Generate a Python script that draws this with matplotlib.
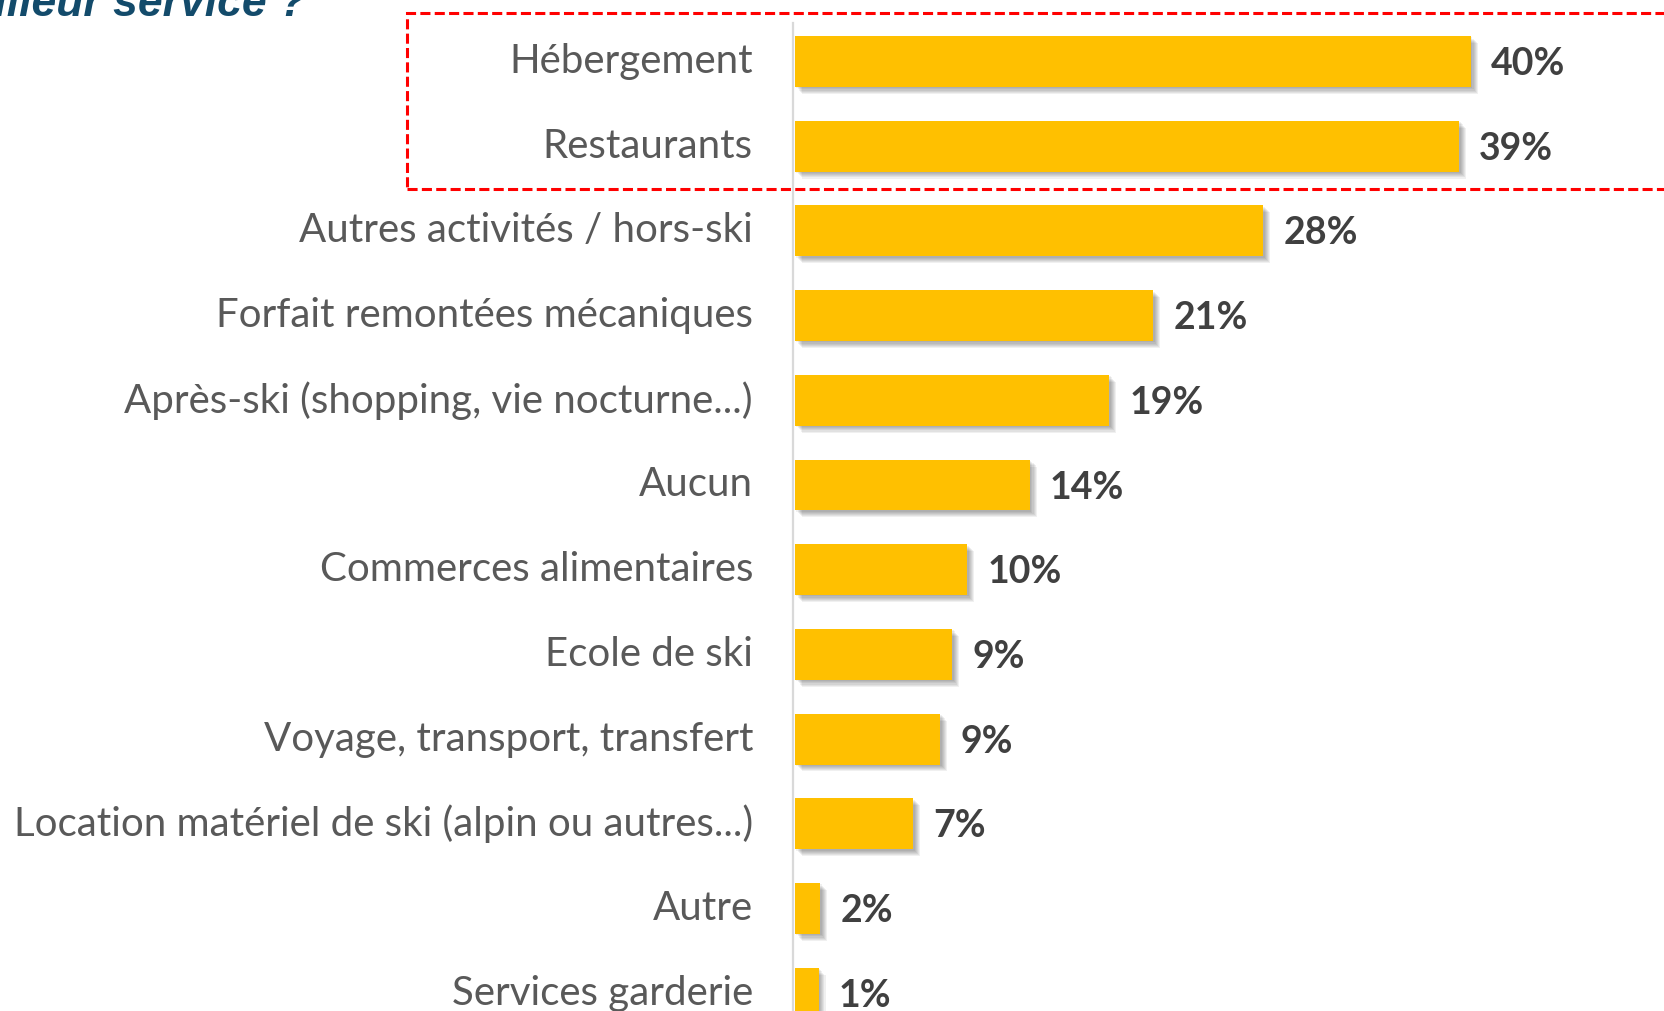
import matplotlib
matplotlib.use("Agg")
import matplotlib.pyplot as plt
import matplotlib.patheffects as pe
from matplotlib.patches import Rectangle

categories = [
    "Hébergement",
    "Restaurants",
    "Autres activités / hors-ski",
    "Forfait remontées mécaniques",
    "Après-ski (shopping, vie nocturne...)",
    "Aucun",
    "Commerces alimentaires",
    "Ecole de ski",
    "Voyage, transport, transfert",
    "Location matériel de ski (alpin ou autres...)",
    "Autre",
    "Services garderie",
]
values = [40.0, 39.3, 27.7, 21.2, 18.6, 13.9, 10.2, 9.3, 8.6, 7.0, 1.5, 1.4]
value_labels = ["40%", "39%", "28%", "21%", "19%", "14%", "10%", "9%", "9%", "7%", "2%", "1%"]
title_text = "meilleur service ?"

W, H = 1664, 1011
fig = plt.figure(figsize=(W / 100, H / 100), dpi=100)

# axes geometry in pixels
x0 = 795.0
ppu = 16.9
xmax = 52
y_center0 = 61.5
step = 84.7
top_px = y_center0 - 0.5 * step
bot_px = y_center0 + (len(categories) - 0.5) * step
ax = fig.add_axes([x0 / W, 1 - bot_px / H, xmax * ppu / W, (bot_px - top_px) / H])
ax.set_xlim(0, xmax)
ax.set_ylim(len(categories) - 0.5, -0.5)
ax.axis("off")

ypos = list(range(len(categories)))
shadows = [pe.SimplePatchShadow(offset=(o, -o), shadow_rgbFace="black", alpha=0.06)
           for o in (1.0, 1.8, 2.6, 3.4, 4.2, 5.0)]
bars = ax.barh(ypos, values, height=0.6, color="#FFC000", zorder=3)
for b in bars:
    b.set_path_effects(shadows + [pe.Normal()])

# vertical axis line
ax.plot([-0.1, -0.1], [-0.45, len(categories)], color="#D9D9D9", lw=1.6,
        clip_on=False, zorder=2)

for y, v, lab, cat in zip(ypos, values, value_labels, categories):
    ax.text(v + 20 / ppu, y + 0.03, lab, ha="left", va="center", fontsize=27,
            fontweight="bold", color="#404040", family="Lato")
    ax.text(-42 / ppu, y, cat, ha="right", va="center", fontsize=29,
            color="#595959", family="Lato", clip_on=False)

# dashed highlight box
box = Rectangle((406.5 / W, 1 - 189 / H), (1700 - 406.5) / W, (189 - 12.7) / H,
                transform=fig.transFigure, fill=False, edgecolor="#FF0000",
                lw=2.2, linestyle=(0, (3.3, 1.4)), zorder=5)
fig.patches.append(box)

fig.text(306 / W, 1 - 16 / H, title_text, ha="right", va="baseline",
         fontsize=32, fontweight="bold", fontstyle="italic", color="#134B6B",
         family="Liberation Sans")

fig.savefig("out.png", dpi=100)
